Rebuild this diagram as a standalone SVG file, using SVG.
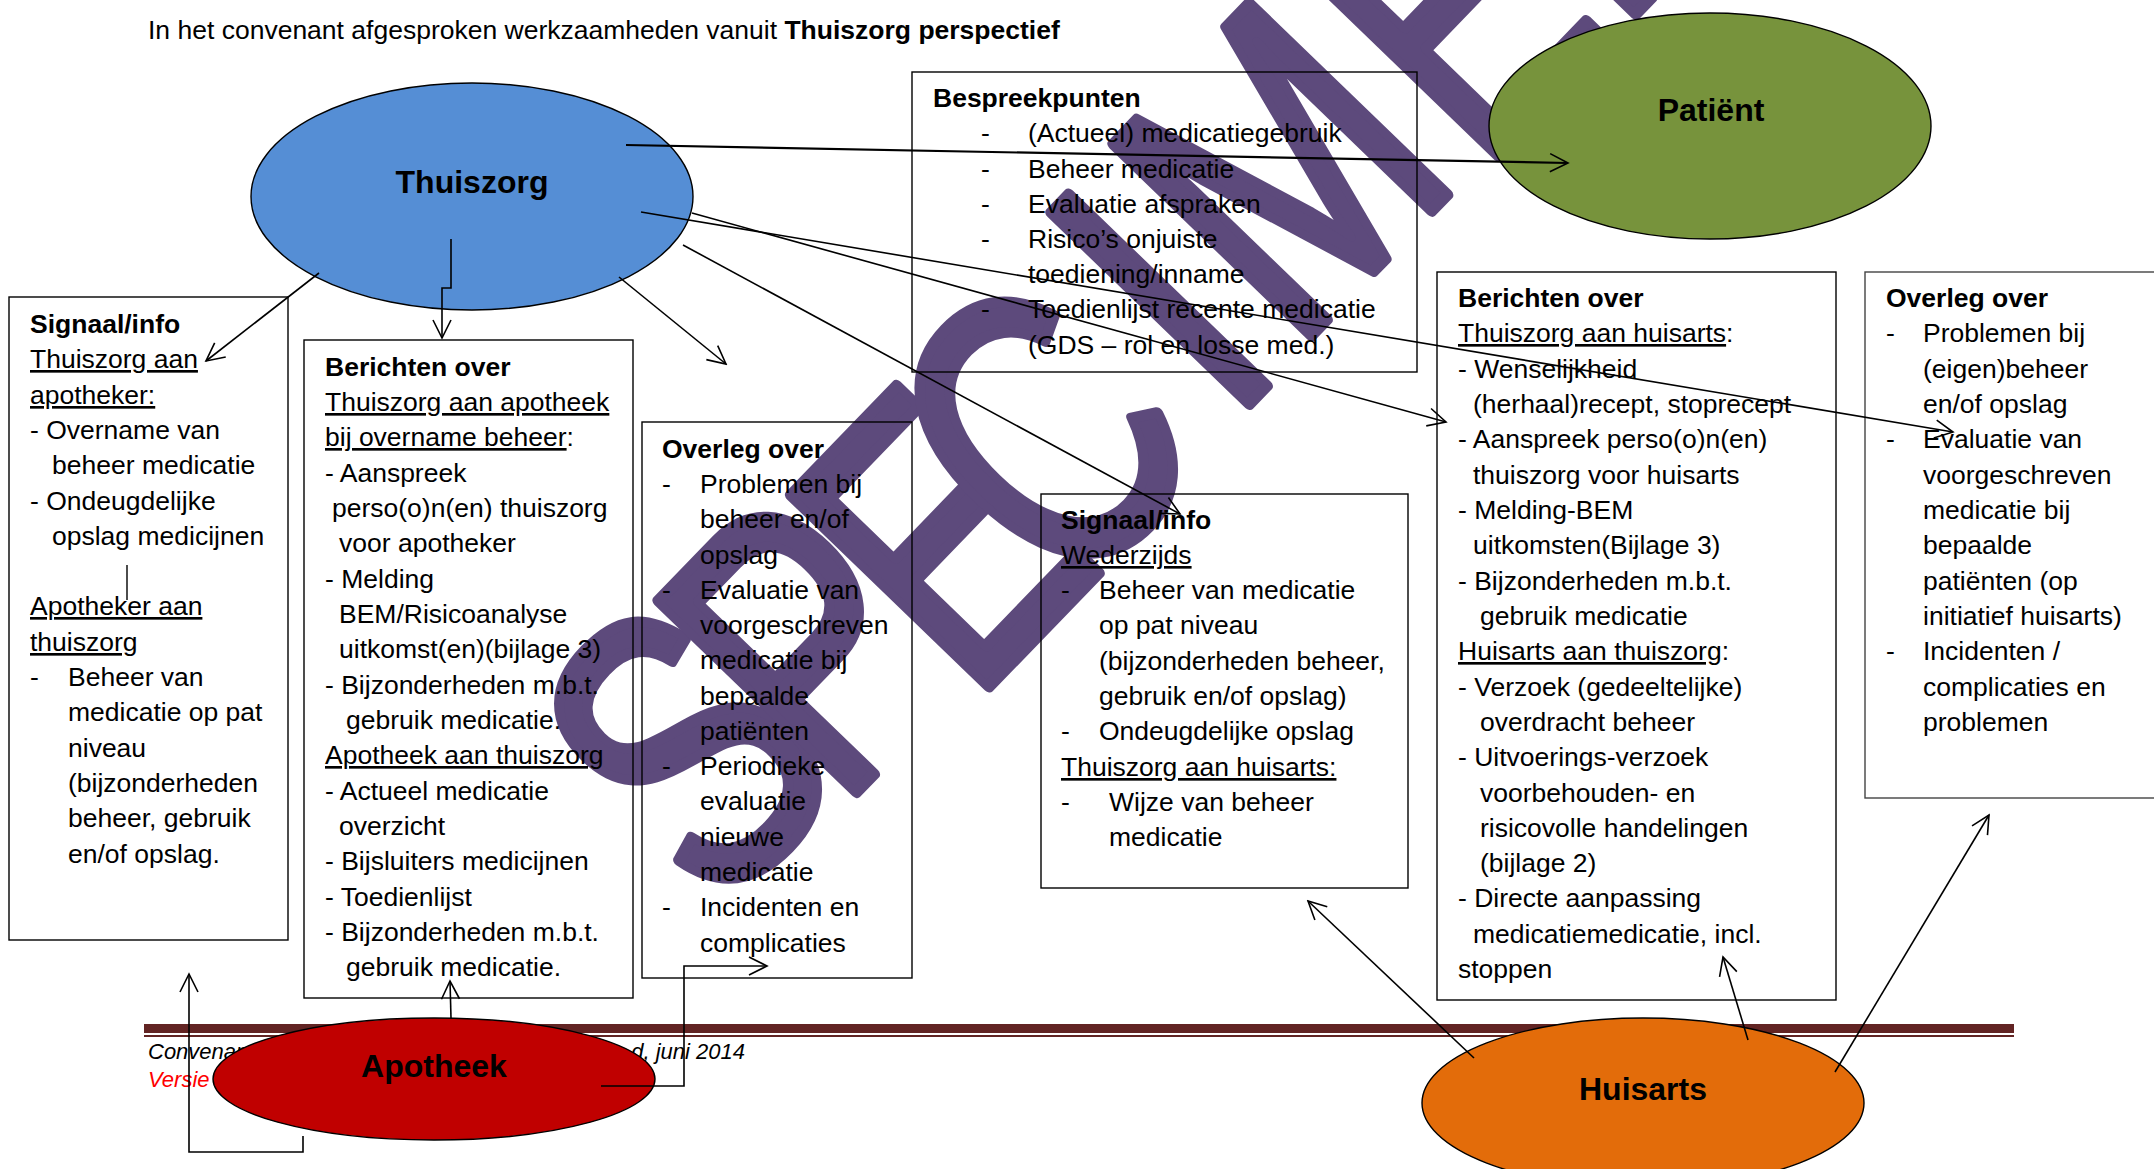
<svg xmlns="http://www.w3.org/2000/svg" width="2154" height="1169" viewBox="0 0 2154 1169">
<style>
text{font-family:"Liberation Sans",Arial,sans-serif;font-size:26.5px;fill:#000}
.b{font-weight:bold}
.u{text-decoration:underline}
.lbl{font-weight:bold;font-size:32px;text-anchor:middle}
.box{fill:none;stroke:#000;stroke-width:1.4}
.node{stroke:#000;stroke-width:1.4}
.c{fill:none;stroke:#000;stroke-width:1.6;marker-end:url(#a)}
.ft{font-style:italic;font-size:22px}
</style>
<defs>
<marker id="a" markerUnits="userSpaceOnUse" markerWidth="22" markerHeight="22" viewBox="0 0 22 22" refX="20" refY="11" orient="auto"><path d="M2,2 L20,11 L2,20" fill="none" stroke="#000" stroke-width="1.6"/></marker>
</defs>
<rect width="2154" height="1169" fill="#fff"/>
<g id="footer">
<rect x="144" y="1024" width="1870" height="9" fill="#622423"/>
<rect x="144" y="1035" width="1870" height="2" fill="#622423"/>
<text class="ft" x="148" y="1059">Convenant</text>
<text class="ft" x="745" y="1059" text-anchor="end">d, juni 2014</text>
<text class="ft" x="148" y="1087" style="fill:#ff0000">Versie</text>
</g>
<g id="watermark">
<text x="97 315 542 728 1057 1186 1536 1803" y="-24 -10 12 12 3 0 10 10" transform="translate(684,985) rotate(-46) scale(0.74,1)" style="font-size:400px;fill:#5D4A7C;stroke:#5D4A7C;stroke-width:12;stroke-linejoin:round;stroke-linecap:round">SPECIMEN</text>
</g>
<text id="title" x="148" y="39">In het convenant afgesproken werkzaamheden vanuit <tspan class="b">Thuiszorg perspectief</tspan></text>
<g id="box-signaal-apotheker">
<rect class="box" x="9" y="297" width="279" height="643"/>
<text class="b" x="30" y="333">Signaal/info</text>
<text x="30" y="368"><tspan class="u">Thuiszorg aan</tspan></text>
<text x="30" y="404"><tspan class="u">apotheker:</tspan></text>
<text x="30" y="439">- Overname van</text>
<text x="52" y="474">beheer medicatie</text>
<text x="30" y="510">- Ondeugdelijke</text>
<text x="52" y="545">opslag medicijnen</text>
<line x1="127" y1="565" x2="127" y2="600" stroke="#000" stroke-width="1.4"/>
<text x="30" y="615"><tspan class="u">Apotheker aan</tspan></text>
<text x="30" y="651"><tspan class="u">thuiszorg</tspan></text>
<text x="30" y="686">-</text><text x="68" y="686">Beheer van</text>
<text x="68" y="721">medicatie op pat</text>
<text x="68" y="757">niveau</text>
<text x="68" y="792">(bijzonderheden</text>
<text x="68" y="827">beheer, gebruik</text>
<text x="68" y="863">en/of opslag.</text>
</g>
<g id="box-berichten-apotheek">
<rect class="box" x="304" y="340" width="329" height="658"/>
<text class="b" x="325" y="376">Berichten over</text>
<text x="325" y="411"><tspan class="u">Thuiszorg aan apotheek</tspan></text>
<text x="325" y="446"><tspan class="u">bij overname beheer</tspan>:</text>
<text x="325" y="482">- Aanspreek</text>
<text x="332" y="517">perso(o)n(en) thuiszorg</text>
<text x="339" y="552">voor apotheker</text>
<text x="325" y="588">- Melding</text>
<text x="339" y="623">BEM/Risicoanalyse</text>
<text x="339" y="658">uitkomst(en)(bijlage 3)</text>
<text x="325" y="694">- Bijzonderheden m.b.t.</text>
<text x="346" y="729">gebruik medicatie.</text>
<text x="325" y="764"><tspan class="u">Apotheek aan thuiszorg</tspan></text>
<text x="325" y="800">- Actueel medicatie</text>
<text x="339" y="835">overzicht</text>
<text x="325" y="870">- Bijsluiters medicijnen</text>
<text x="325" y="906">- Toedienlijst</text>
<text x="325" y="941">- Bijzonderheden m.b.t.</text>
<text x="346" y="976">gebruik medicatie.</text>
</g>
<g id="box-overleg-apotheek">
<rect class="box" x="642" y="422" width="270" height="556"/>
<text class="b" x="662" y="458">Overleg over</text>
<text x="662" y="493">-</text><text x="700" y="493">Problemen bij</text>
<text x="700" y="528">beheer en/of</text>
<text x="700" y="564">opslag</text>
<text x="662" y="599">-</text><text x="700" y="599">Evaluatie van</text>
<text x="700" y="634">voorgeschreven</text>
<text x="700" y="669">medicatie bij</text>
<text x="700" y="705">bepaalde</text>
<text x="700" y="740">patiënten</text>
<text x="662" y="775">-</text><text x="700" y="775">Periodieke</text>
<text x="700" y="810">evaluatie</text>
<text x="700" y="846">nieuwe</text>
<text x="700" y="881">medicatie</text>
<text x="662" y="916">-</text><text x="700" y="916">Incidenten en</text>
<text x="700" y="952">complicaties</text>
</g>
<g id="box-bespreekpunten">
<rect class="box" x="912" y="72" width="505" height="300"/>
<text class="b" x="933" y="107">Bespreekpunten</text>
<text x="981" y="142">-</text><text x="1028" y="142">(Actueel) medicatiegebruik</text>
<text x="981" y="178">-</text><text x="1028" y="178">Beheer medicatie</text>
<text x="981" y="213">-</text><text x="1028" y="213">Evaluatie afspraken</text>
<text x="981" y="248">-</text><text x="1028" y="248">Risico’s onjuiste</text>
<text x="1028" y="283">toediening/inname</text>
<text x="981" y="318">-</text><text x="1028" y="318">Toedienlijst recente medicatie</text>
<text x="1028" y="354">(GDS – rol en losse med.)</text>
</g>
<g id="box-signaal-wederzijds">
<rect class="box" x="1041" y="494" width="367" height="394"/>
<text class="b" x="1061" y="529">Signaal/info</text>
<text x="1061" y="564"><tspan class="u">Wederzijds</tspan></text>
<text x="1061" y="599">-</text><text x="1099" y="599">Beheer van medicatie</text>
<text x="1099" y="634">op pat niveau</text>
<text x="1099" y="670">(bijzonderheden beheer,</text>
<text x="1099" y="705">gebruik en/of opslag)</text>
<text x="1061" y="740">-</text><text x="1099" y="740">Ondeugdelijke opslag</text>
<text x="1061" y="776"><tspan class="u">Thuiszorg aan huisarts:</tspan></text>
<text x="1061" y="811">-</text><text x="1109" y="811">Wijze van beheer</text>
<text x="1109" y="846">medicatie</text>
</g>
<g id="box-berichten-huisarts">
<rect class="box" x="1437" y="272" width="399" height="728"/>
<text class="b" x="1458" y="307">Berichten over</text>
<text x="1458" y="342"><tspan class="u">Thuiszorg aan huisarts</tspan>:</text>
<text x="1458" y="378">- Wenselijkheid</text>
<text x="1473" y="413">(herhaal)recept, stoprecept</text>
<text x="1458" y="448">- Aanspreek perso(o)n(en)</text>
<text x="1473" y="484">thuiszorg voor huisarts</text>
<text x="1458" y="519">- Melding-BEM</text>
<text x="1473" y="554">uitkomsten(Bijlage 3)</text>
<text x="1458" y="590">- Bijzonderheden m.b.t.</text>
<text x="1480" y="625">gebruik medicatie</text>
<text x="1458" y="660"><tspan class="u">Huisarts aan thuiszorg</tspan>:</text>
<text x="1458" y="696">- Verzoek (gedeeltelijke)</text>
<text x="1480" y="731">overdracht beheer</text>
<text x="1458" y="766">- Uitvoerings-verzoek</text>
<text x="1480" y="802">voorbehouden- en</text>
<text x="1480" y="837">risicovolle handelingen</text>
<text x="1480" y="872">(bijlage 2)</text>
<text x="1458" y="907">- Directe aanpassing</text>
<text x="1473" y="943">medicatiemedicatie, incl.</text>
<text x="1458" y="978">stoppen</text>
</g>
<g id="box-overleg-huisarts">
<rect class="box" x="1865" y="272" width="300" height="526" style="stroke:#444"/>
<text class="b" x="1886" y="307">Overleg over</text>
<text x="1886" y="342">-</text><text x="1923" y="342">Problemen bij</text>
<text x="1923" y="378">(eigen)beheer</text>
<text x="1923" y="413">en/of opslag</text>
<text x="1886" y="448">-</text><text x="1923" y="448">Evaluatie van</text>
<text x="1923" y="484">voorgeschreven</text>
<text x="1923" y="519">medicatie bij</text>
<text x="1923" y="554">bepaalde</text>
<text x="1923" y="590">patiënten (op</text>
<text x="1923" y="625">initiatief huisarts)</text>
<text x="1886" y="660">-</text><text x="1923" y="660">Incidenten /</text>
<text x="1923" y="696">complicaties en</text>
<text x="1923" y="731">problemen</text>
</g>
<g id="node-thuiszorg">
<ellipse class="node" cx="472" cy="196.5" rx="221" ry="113.5" fill="#558ED5"/>
<text class="lbl" x="472" y="193">Thuiszorg</text>
</g>
<g id="node-patient">
<ellipse class="node" cx="1710" cy="126" rx="221" ry="113" fill="#77933C"/>
<text class="lbl" x="1711" y="121">Patiënt</text>
</g>
<g id="node-apotheek">
<ellipse class="node" cx="434" cy="1079" rx="221" ry="61" fill="#C00000"/>
<text class="lbl" x="434" y="1077">Apotheek</text>
</g>
<g id="node-huisarts">
<ellipse class="node" cx="1643" cy="1103" rx="221" ry="85" fill="#E36C0A"/>
<text class="lbl" x="1643" y="1100">Huisarts</text>
</g>
<g id="connectors">
<line class="c" x1="626" y1="145" x2="1568" y2="163" style="stroke-width:2.2"/>
<line class="c" x1="319" y1="273" x2="206" y2="361"/>
<polyline class="c" points="451,239 451,288 442,288 442,338"/>
<line class="c" x1="619" y1="277" x2="726" y2="364"/>
<line class="c" x1="683" y1="245" x2="1180" y2="514"/>
<line class="c" x1="692" y1="213" x2="1446" y2="422"/>
<line class="c" x1="641" y1="212" x2="1953" y2="432"/>
<polyline class="c" points="303,1136 303,1152 189,1152 189,974"/>
<line class="c" x1="451" y1="1018" x2="450" y2="981"/>
<polyline class="c" points="601,1086 684,1086 684,966 767,966"/>
<line class="c" x1="1474" y1="1058" x2="1308" y2="901"/>
<line class="c" x1="1748" y1="1040" x2="1723" y2="957"/>
<line class="c" x1="1835" y1="1072" x2="1989" y2="815"/>
</g>
</svg>
